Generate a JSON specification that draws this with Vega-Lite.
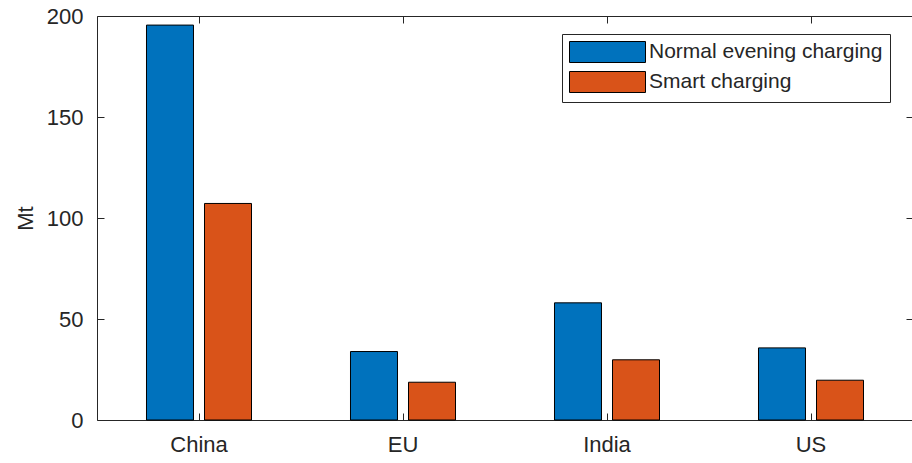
{
  "$schema": "https://vega.github.io/schema/vega-lite/v6.json",
  "autosize": "none",
  "width": 816,
  "height": 404,
  "padding": {"left": 97, "top": 16, "right": 0, "bottom": 43},
  "background": "white",
  "config": {
    "view": {"stroke": null},
    "font": "Liberation Sans",
    "axis": {
      "domainColor": "#262626",
      "tickColor": "#262626",
      "labelColor": "#262626",
      "titleColor": "#262626",
      "labelFont": "Liberation Sans",
      "titleFont": "Liberation Sans",
      "labelFontSize": 22,
      "titleFontSize": 22,
      "titleFontWeight": "normal",
      "grid": false,
      "tickSize": -7,
      "domainWidth": 1,
      "tickWidth": 1
    }
  },
  "data": {
    "values": [
      {"region": "China", "scenario": "Normal evening charging", "value": 195.5},
      {"region": "China", "scenario": "Smart charging", "value": 107.2},
      {"region": "EU", "scenario": "Normal evening charging", "value": 33.9},
      {"region": "EU", "scenario": "Smart charging", "value": 18.7},
      {"region": "India", "scenario": "Normal evening charging", "value": 58.0},
      {"region": "India", "scenario": "Smart charging", "value": 29.8},
      {"region": "US", "scenario": "Normal evening charging", "value": 35.7},
      {"region": "US", "scenario": "Smart charging", "value": 19.7}
    ]
  },
  "layer": [
    {
      "mark": {"type": "bar", "stroke": "#000000", "strokeWidth": 1},
      "encoding": {
        "x": {
          "field": "region", "type": "nominal", "sort": ["China", "EU", "India", "US"],
          "scale": {"paddingInner": 0, "paddingOuter": 0},
          "axis": {"orient": "bottom", "title": null, "labelAngle": 0, "labelPadding": 21}
        },
        "xOffset": {
          "field": "scenario", "type": "nominal",
          "sort": ["Normal evening charging", "Smart charging"],
          "scale": {"paddingInner": 0.19, "paddingOuter": 0.853}
        },
        "y": {
          "field": "value", "type": "quantitative",
          "scale": {"domain": [0, 200], "nice": false, "zero": true},
          "axis": {"orient": "left", "title": "Mt", "values": [0, 50, 100, 150, 200], "labelPadding": 21, "titlePadding": 9}
        },
        "color": {
          "field": "scenario", "type": "nominal",
          "sort": ["Normal evening charging", "Smart charging"],
          "scale": {"domain": ["Normal evening charging", "Smart charging"], "range": ["#0072BD", "#D95319"]},
          "legend": {
            "title": null,
            "orient": "none",
            "legendX": 465,
            "legendY": 18,
            "padding": 7,
            "strokeColor": "#262626",
            "fillColor": "white",
            "symbolType": "M-3.619,-1H3.619V1H-3.619Z",
            "symbolSize": 441,
            "symbolOffset": 27.5,
            "symbolStrokeColor": "#000000",
            "symbolStrokeWidth": 1,
            "symbolOpacity": 1,
            "labelFont": "Liberation Sans",
            "labelFontSize": 21,
            "labelColor": "#262626",
            "labelOffset": 30.5,
            "rowPadding": 4,
            "labelLimit": 400
          }
        }
      }
    },
    {
      "mark": {"type": "bar", "opacity": 0},
      "encoding": {
        "x": {
          "field": "region", "type": "nominal", "sort": ["China", "EU", "India", "US"],
          "axis": {"orient": "top", "title": null, "labels": false}
        },
        "y": {
          "field": "value", "type": "quantitative",
          "axis": {"orient": "right", "title": null, "labels": false, "values": [0, 50, 100, 150, 200]}
        }
      }
    }
  ],
  "resolve": {"axis": {"x": "independent", "y": "independent"}}
}
